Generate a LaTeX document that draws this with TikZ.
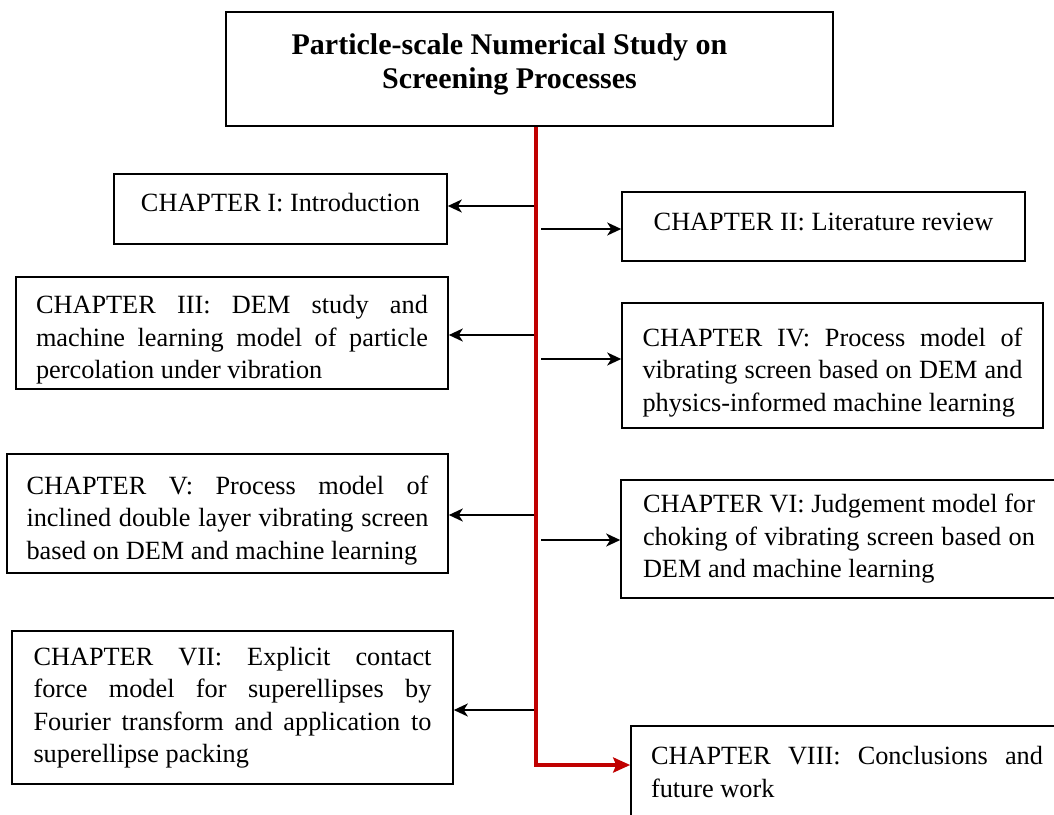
\documentclass[tikz,border=0pt]{standalone}
\usepackage{fontspec}
\setmainfont{Liberation Serif}
\usetikzlibrary{arrows.meta}
\definecolor{spinered}{RGB}{192,0,0}
\hyphenpenalty=10000
\exhyphenpenalty=10000
\newcommand{\topgap}{\rule{0pt}{32pt}}
\tikzset{
  chapter/.style={draw, line width=1.6pt, inner sep=0pt, font=\fontsize{26.3}{32.5}\selectfont},
  justified/.style={align=justify, text width=#1},
  link/.style={->, line width=2pt},
}
\begin{document}
\begin{tikzpicture}[x=1pt, y=-1pt, >={Stealth[length=14pt, width=13pt, inset=4pt]}]
		\useasboundingbox (0,0) rectangle (1054,814);
		\clip (0,0) rectangle (1054,814);
		
		\node[draw, line width=1.6pt, minimum width=607pt, minimum height=114pt, align=center, text depth=16pt, font=\fontsize{30}{34}\selectfont\bfseries] (title) at (529.5,69) {Particle-scale Numerical Study on\hspace*{40pt}\\Screening Processes\hspace*{40pt}};
		
		\node[chapter, minimum width=333pt, minimum height=70pt, text depth=14pt] (ch1) at (280.5,209) {CHAPTER I: Introduction};
		\node[chapter, minimum width=403pt, minimum height=69pt, text depth=10pt] (ch2) at (823.5,226.5) {CHAPTER II: Literature review};
		\node[chapter, justified=392pt, minimum width=432pt, minimum height=112pt] (ch3) at (232,333) {\topgap CHAPTER III: DEM study and\linebreak machine learning model of particle\linebreak percolation under vibration};
		\node[chapter, justified=380pt, minimum width=421pt, minimum height=125pt] (ch4) at (832.5,365.5) {\topgap CHAPTER IV: Process model of\linebreak vibrating screen based on DEM and\linebreak physics-informed machine learning};
		\node[chapter, justified=402pt, minimum width=441pt, minimum height=119pt] (ch5) at (227.5,513.5) {\topgap CHAPTER V: Process model of\linebreak inclined double layer vibrating screen\linebreak based on DEM and machine learning};
		\node[chapter, justified=392pt, minimum width=436pt, minimum height=118pt] (ch6) at (839,539) {CHAPTER VI: Judgement model for\linebreak choking of vibrating screen based on\linebreak DEM and machine learning};
		\node[chapter, justified=398pt, minimum width=441pt, minimum height=153pt] (ch7) at (232.5,707.5) {CHAPTER VII: Explicit contact\linebreak force model for superellipses by\linebreak Fourier transform and application to\linebreak superellipse packing};
		\node[chapter, justified=392pt, minimum width=432pt, minimum height=92pt] (ch8) at (847,772) {CHAPTER VIII: Conclusions and\linebreak future work};
		
		\coordinate (j) at (536,765);
		\draw[spinered, line width=4pt, ->, >={Stealth[length=17pt, width=15pt, inset=3pt]}] (title.south -| j) -- (j) -- (j -| ch8.west);
		
		\coordinate (a1) at (534,206);
		\coordinate (a2) at (541,229);
		\coordinate (a3) at (534,335);
		\coordinate (a4) at (541,359);
		\coordinate (a5) at (534,515);
		\coordinate (a6) at (541,540);
		\coordinate (a7) at (534,710);
		\path [link] (a1) edge (a1 -| ch1.east);
		\path [link] (a2) edge (a2 -| ch2.west);
		\path [link] (a3) edge (a3 -| ch3.east);
		\path [link] (a4) edge (a4 -| ch4.west);
		\path [link] (a5) edge (a5 -| ch5.east);
		\path [link] (a6) edge (a6 -| ch6.west);
		\path [link] (a7) edge (a7 -| ch7.east);
\end{tikzpicture}
\end{document}
